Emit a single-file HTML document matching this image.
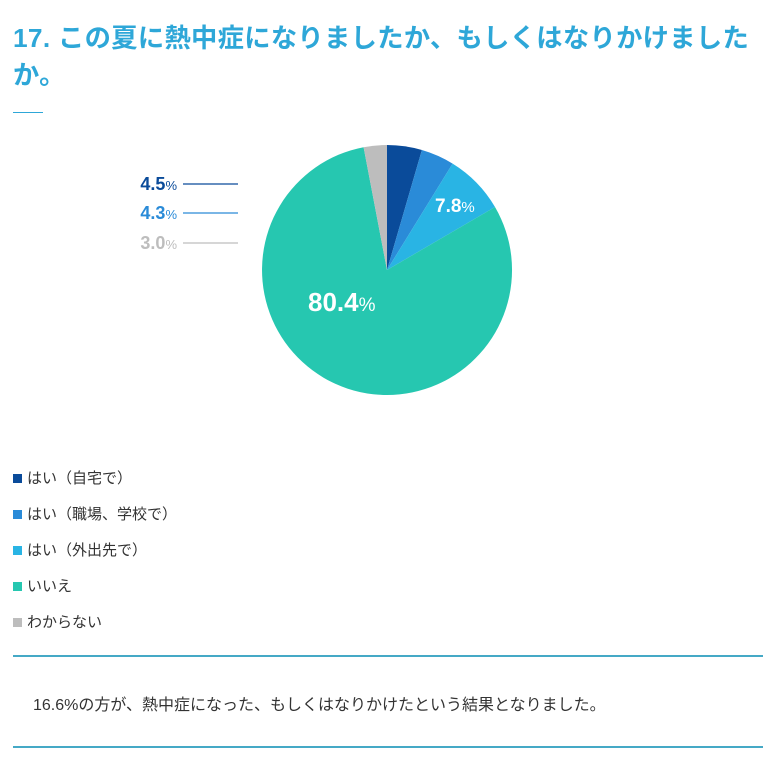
<!DOCTYPE html>
<html><head><meta charset="utf-8"><style>
body{margin:0;width:782px;height:765px;background:#fff;font-family:"Liberation Sans","Noto Sans CJK JP",sans-serif;position:relative;overflow:hidden}
.t{position:absolute;left:13px;top:20px;font-size:26.3px;line-height:37px;color:#2ea7d8;font-weight:bold;white-space:nowrap;letter-spacing:0.3px}
.a{position:absolute;}
.lg{position:absolute;left:13px;font-size:15px;color:#333;line-height:18px}
.lg i{display:inline-block;width:9px;height:9px;margin-right:5px;vertical-align:0}
.hr{position:absolute;left:13px;width:750px;height:2px;background:#45a9c6}
</style></head><body>
<div class="t">17. この夏に熱中症になりましたか、もしくはなりかけました<br>か。</div>
<div class="a" style="left:13px;top:112px;width:30px;height:1px;background:#2ea7d8"></div>
<svg class="a" style="left:0;top:0" width="782" height="440">
<path d="M387,270 L387,145 A125,125 0 0 1 421.9,150 Z" fill="#0a4b9a"/>
<path d="M387,270 L421.9,150 A125,125 0 0 1 452.6,163.6 Z" fill="#2a8bd8"/>
<path d="M387,270 L452.6,163.6 A125,125 0 0 1 495,207 Z" fill="#29b4e4"/>
<path d="M387,270 L495,207 A125,125 0 1 1 363.6,147.2 Z" fill="#26c7b0"/>
<path d="M387,270 L363.6,147.2 A125,125 0 0 1 387,145 Z" fill="#bdbdbd"/>
<g font-family="Liberation Sans, sans-serif" font-weight="bold">
<text x="435" y="212" fill="#fff" font-size="19">7.8<tspan font-size="15" font-weight="normal">%</tspan></text>
<text x="308" y="311" fill="#fff" font-size="26">80.4<tspan font-size="19" font-weight="normal">%</tspan></text>
<text x="177" y="190" fill="#0a4b9a" font-size="18" text-anchor="end">4.5<tspan font-size="13" font-weight="normal">%</tspan></text>
<text x="177" y="219" fill="#2a8bd8" font-size="18" text-anchor="end">4.3<tspan font-size="13" font-weight="normal">%</tspan></text>
<text x="177" y="249" fill="#bdbdbd" font-size="18" text-anchor="end">3.0<tspan font-size="13" font-weight="normal">%</tspan></text>
</g>
<line x1="183" y1="184" x2="238" y2="184" stroke="#0a4b9a" stroke-width="1.3"/>
<line x1="183" y1="213" x2="238" y2="213" stroke="#2a8bd8" stroke-width="1.3"/>
<line x1="183" y1="243" x2="238" y2="243" stroke="#bdbdbd" stroke-width="1.3"/>
</svg>
<div class="lg" style="top:470px"><i style="background:#0a4b9a"></i>はい（自宅で）</div>
<div class="lg" style="top:506px"><i style="background:#2a8bd8"></i>はい（職場、学校で）</div>
<div class="lg" style="top:542px"><i style="background:#29b4e4"></i>はい（外出先で）</div>
<div class="lg" style="top:578px"><i style="background:#26c7b0"></i>いいえ</div>
<div class="lg" style="top:614px"><i style="background:#bdbdbd"></i>わからない</div>
<div class="hr" style="top:655px"></div>
<div class="a" style="left:33px;top:691px;font-size:16px;color:#333">16.6%の方が、熱中症になった、もしくはなりかけたという結果となりました。</div>
<div class="hr" style="top:746px"></div>
</body></html>
